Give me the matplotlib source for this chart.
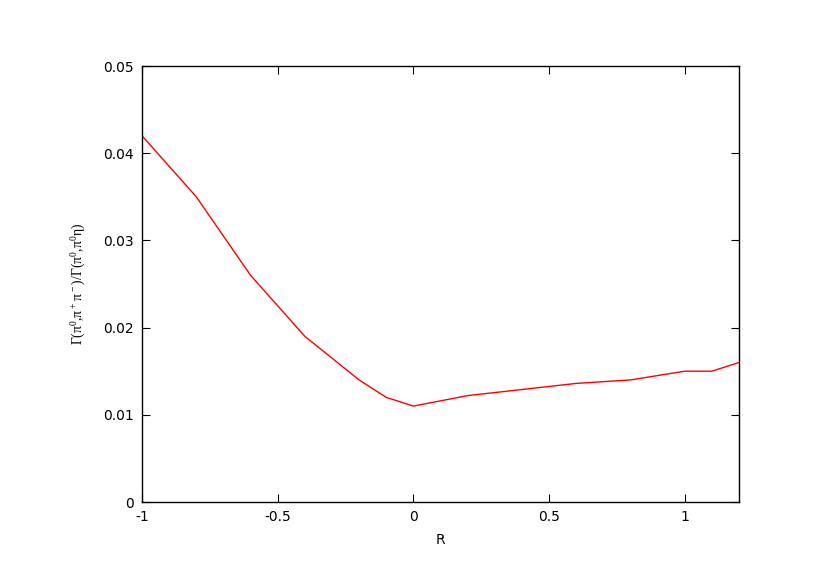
import matplotlib
matplotlib.use("Agg")
import matplotlib.pyplot as plt

R = [-1.0, -0.8, -0.6, -0.4, -0.2, -0.1, 0.0, 0.2, 0.4, 0.6, 0.8, 1.0, 1.1, 1.2]
ratio = [0.042, 0.035, 0.026, 0.019, 0.014, 0.012, 0.011, 0.0122, 0.0129, 0.0136, 0.014, 0.015, 0.015, 0.016]
xticks = [-1, -0.5, 0, 0.5, 1]
xticklabels = ["-1", "-0.5", "0", "0.5", "1"]
yticks = [0, 0.01, 0.02, 0.03, 0.04, 0.05]
yticklabels = ["0", "0.01", "0.02", "0.03", "0.04", "0.05"]

plt.rcParams['mathtext.fontset'] = 'custom'
plt.rcParams['mathtext.rm'] = 'Liberation Serif'
plt.rcParams['mathtext.default'] = 'regular'

fig = plt.figure(figsize=(8.3, 5.87), dpi=100)
ax = fig.add_axes([142/830, 85/587, 597/830, 436/587])
ax.plot(R, ratio, color="#ff0000", lw=1.0)
ax.set_xlim(-1, 1.2)
ax.set_ylim(0, 0.05)
ax.set_xticks(xticks)
ax.set_xticklabels(xticklabels)
ax.set_yticks(yticks)
ax.set_yticklabels(yticklabels)
ax.tick_params(direction="in", top=True, right=True, length=6, labelsize=10, pad=6)
for s in ax.spines.values():
    s.set_linewidth(1.0)
ax.set_xlabel("R", fontsize=10, labelpad=6)
ax.set_ylabel("Γ(π$^0$,π$^+$π$^-$)/Γ(π$^0$,π$^0$η)", fontsize=9.8,
              family="Liberation Serif", va="center")
ax.yaxis.set_label_coords(-0.105, 0.5)
fig.savefig("out.png", dpi=100)
